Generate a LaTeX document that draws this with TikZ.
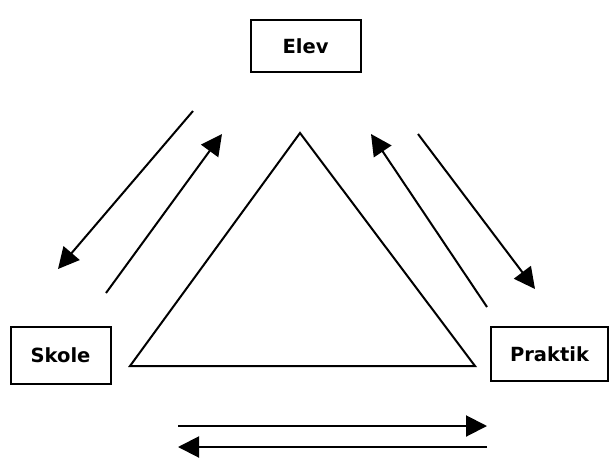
\documentclass[tikz,border=0pt]{standalone}
\usepackage{fontspec}
\setmainfont{DejaVu Sans}
\usetikzlibrary{arrows.meta}
\begin{document}
\begin{tikzpicture}[x=1pt,y=-1pt,
  lbl/.style={draw,line width=2pt,font=\fontsize{19.5}{21}\selectfont\bfseries,inner sep=0pt},
  conn/.style={line width=2pt,-{Triangle[length=21pt,width=21pt]}},
  tri/.style={line width=2pt,line join=miter}]
\useasboundingbox (0,0) rectangle (610,458);
\node[lbl,minimum width=110pt,minimum height=52pt] (elev) at (305.5,46) {Elev};
\node[lbl,minimum width=100pt,minimum height=57pt] (skole) at (60.5,355.5) {Skole};
\node[lbl,minimum width=117pt,minimum height=54pt] (praktik) at (549.5,354) {Praktik};
\coordinate (apex) at (300,133);
\coordinate (bl) at (130,366);
\coordinate (br) at (475,366);
\draw[tri] (apex) -- (bl) -- (br) -- cycle;
\coordinate (a1s) at (193,111); \coordinate (a1e) at (58,269);
\coordinate (a2s) at (106,293); \coordinate (a2e) at (222,134);
\coordinate (a3s) at (487,307); \coordinate (a3e) at (371,134);
\coordinate (a4s) at (418,134); \coordinate (a4e) at (535,289);
\coordinate (a5s) at (178,426); \coordinate (a5e) at (487,426);
\coordinate (a6s) at (487,447); \coordinate (a6e) at (178,447);
\draw[conn] (a1s) -- (a1e);
\draw[conn] (a2s) -- (a2e);
\draw[conn] (a3s) -- (a3e);
\draw[conn] (a4s) -- (a4e);
\draw[conn] (a5s) -- (a5e);
\draw[conn] (a6s) -- (a6e);
\end{tikzpicture}
\end{document}
